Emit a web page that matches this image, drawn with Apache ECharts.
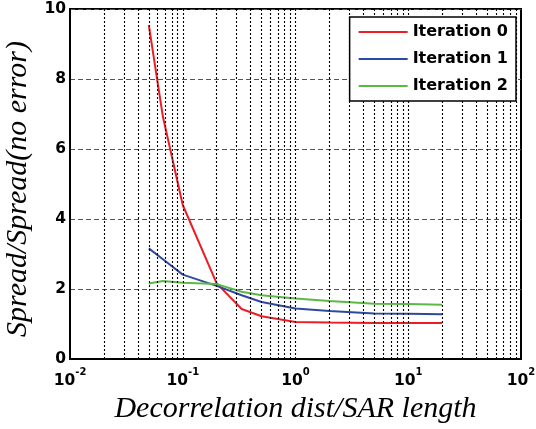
<!DOCTYPE html>
<html>
<head>
<meta charset="utf-8">
<script src="https://cdn.jsdelivr.net/npm/echarts@6/dist/echarts.min.js"></script>
<style>
  html, body { margin: 0; padding: 0; background: #fff; }
  #chart { width: 536px; height: 429px; }
</style>
</head>
<body>
<div id="chart"></div>
<script>
// decorrelation distance / SAR length
const ratios = [0.05, 0.0667, 0.1, 0.2, 0.333, 0.5, 1, 2, 5, 10, 20];
const iter0 = [9.54, 6.92, 4.4, 2.16, 1.43, 1.22, 1.06, 1.04, 1.03, 1.03, 1.03];
const iter1 = [3.16, 2.85, 2.41, 2.09, 1.82, 1.63, 1.44, 1.37, 1.3, 1.29, 1.28];
const iter2 = [2.16, 2.23, 2.18, 2.14, 1.92, 1.82, 1.73, 1.66, 1.58, 1.57, 1.55];
const seriesNames = ["Iteration 0", "Iteration 1", "Iteration 2"];
const seriesColors = ["#ee1c24", "#2e4a9e", "#5cb946"];
// log grid lines between decades
const logGridLines = [
  0.02, 0.03, 0.04, 0.05, 0.06, 0.07, 0.08, 0.09, 0.1,
  0.2, 0.3, 0.4, 0.5, 0.6, 0.7, 0.8, 0.9, 1,
  2, 3, 4, 5, 6, 7, 8, 9, 10,
  20, 30, 40, 50, 60, 70, 80, 90,
];

const sans = "'DejaVu Sans', Arial, sans-serif";
const serif = "'Liberation Serif', 'Times New Roman', serif";

const pairs = (ys) => ratios.map((x, i) => [x, ys[i]]);
const lineSeries = [iter0, iter1, iter2].map((ys, i) => ({
  name: seriesNames[i],
  type: "line",
  data: pairs(ys),
  symbol: "none",
  z: 4,
  lineStyle: { color: seriesColors[i], width: 2 },
  itemStyle: { color: seriesColors[i] },
}));

const chart = echarts.init(document.getElementById("chart"));
chart.setOption({
  animation: false,
  grid: {
    left: 70,
    right: 15,
    top: 9,
    bottom: 70,
    outerBoundsMode: "none",
    show: true,
    borderColor: "#000",
    borderWidth: 2,
  },
  legend: {
    data: seriesNames,
    orient: "vertical",
    right: 20,
    top: 17,
    z: 10,
    icon: "rect",
    itemWidth: 49,
    itemHeight: 2,
    itemGap: 9,
    padding: [6, 8, 6, 9],
    backgroundColor: "#fff",
    borderColor: "#000",
    borderWidth: 1.5,
    borderRadius: 0,
    textStyle: {
      fontFamily: sans,
      fontWeight: "bold",
      fontSize: 16,
      lineHeight: 18,
      color: "#000",
    },
  },
  xAxis: {
    type: "log",
    logBase: 10,
    min: 0.01,
    max: 100,
    name: "Decorrelation dist/SAR length",
    nameLocation: "middle",
    nameGap: 35,
    nameTextStyle: { fontFamily: serif, fontStyle: "italic", fontSize: 30, color: "#000" },
    axisLine: { lineStyle: { color: "#000", width: 2 } },
    axisTick: { show: false },
    splitLine: { show: false },
    axisLabel: {
      margin: 8,
      formatter: (v) => "{b|10}{s|" + Math.round(Math.log10(v)) + "}",
      rich: {
        b: { fontFamily: sans, fontWeight: "bold", fontSize: 15.5, lineHeight: 28, color: "#000" },
        s: { fontFamily: sans, fontWeight: "bold", fontSize: 10, lineHeight: 10, verticalAlign: "top", color: "#000" },
      },
    },
  },
  yAxis: {
    type: "value",
    min: 0,
    max: 10,
    interval: 2,
    name: "Spread/Spread(no error)",
    nameLocation: "middle",
    nameGap: 36,
    nameTextStyle: {
      fontFamily: serif,
      fontStyle: "italic",
      fontSize: 30,
      color: "#000",
      padding: [0, 10, 0, 0],
    },
    axisLine: { show: true, lineStyle: { color: "#000", width: 2 } },
    axisTick: { show: false },
    axisLabel: {
      margin: 4,
      fontFamily: sans,
      fontWeight: "bold",
      fontSize: 15.5,
      color: "#000",
    },
    splitLine: { lineStyle: { color: "#555", type: [5, 3], width: 1 } },
  },
  series: [
    {
      name: "grid",
      type: "line",
      data: [],
      z: 1,
      silent: true,
      markLine: {
        silent: true,
        symbol: "none",
        label: { show: false },
        lineStyle: { color: "#000", type: [2, 2], width: 1.1 },
        data: logGridLines.map((x) => ({ xAxis: x })),
      },
    },
    ...lineSeries,
  ],
});
</script>
</body>
</html>
